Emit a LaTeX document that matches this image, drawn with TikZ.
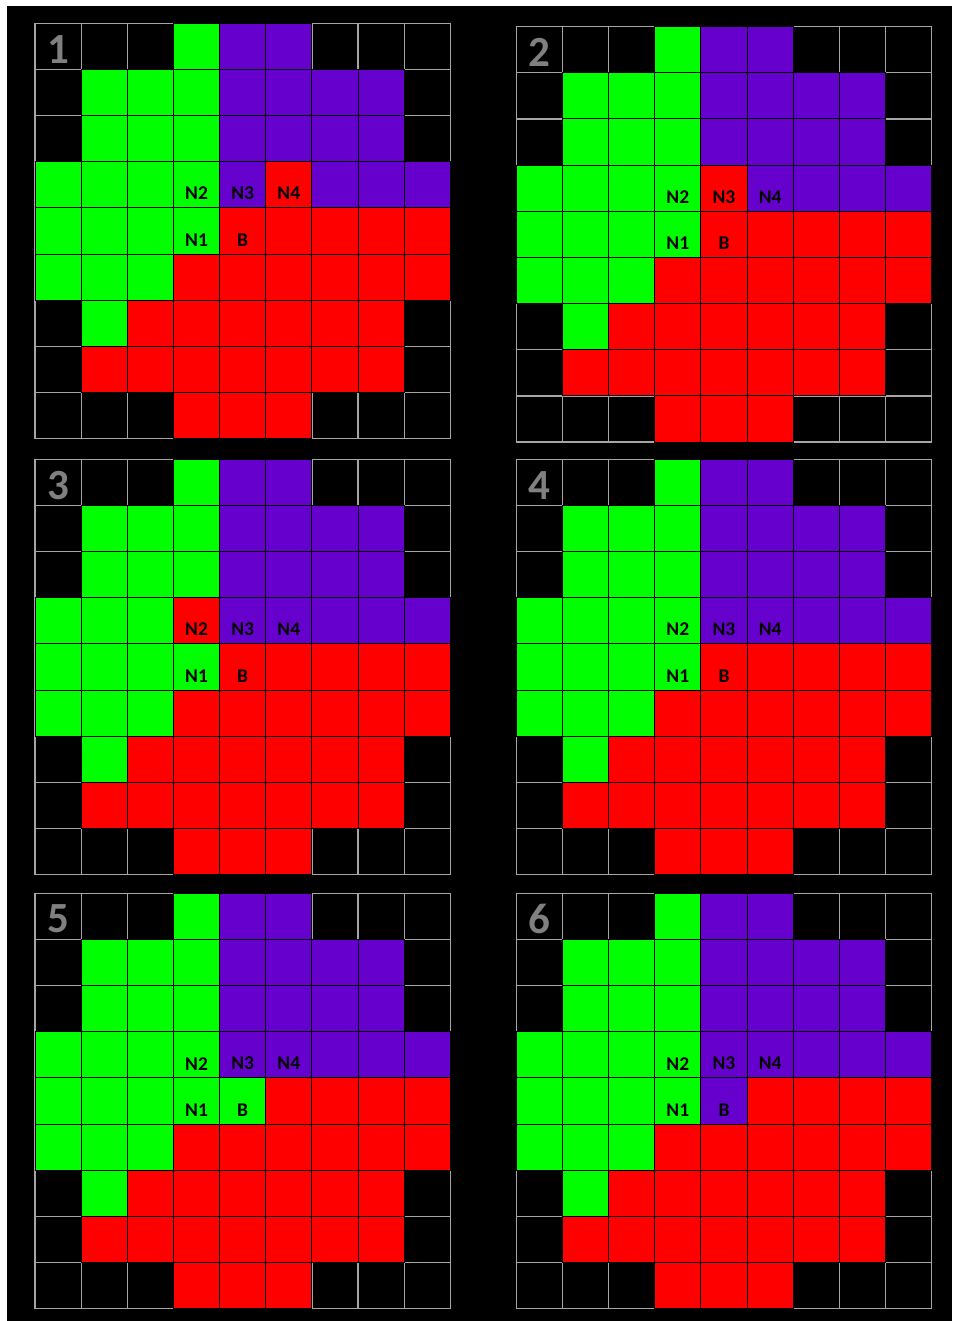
\documentclass[tikz,border=0pt]{standalone}
\usepackage{fontspec}
\setmainfont{Carlito}

\definecolor{cellgreen}{RGB}{0,255,0}
\definecolor{cellred}{RGB}{255,0,0}
\definecolor{cellpurple}{RGB}{102,0,204}
\definecolor{gridgrey}{RGB}{165,165,165}
\definecolor{numgrey}{RGB}{128,128,128}

% fixed cells, column/row from the top left corner
\newcommand{\greencells}{3/0,1/1,2/1,3/1,1/2,2/2,3/2,0/3,1/3,2/3,0/4,1/4,2/4,3/4,0/5,1/5,2/5,1/6}
\newcommand{\purplecells}{4/0,5/0,4/1,5/1,6/1,7/1,4/2,5/2,6/2,7/2,6/3,7/3,8/3}
\newcommand{\redcells}{5/4,6/4,7/4,8/4,3/5,4/5,5/5,6/5,7/5,8/5,2/6,3/6,4/6,5/6,6/6,7/6,1/7,2/7,3/7,4/7,5/7,6/7,7/7,3/8,4/8,5/8}

% #1,#2 top left corner (px), #3 number, #4 N2, #5 N3, #6 N4, #7 B
\newcommand{\board}[7]{%
  \begin{scope}[shift={(#1pt,-#2pt)}, x=46.15pt, y=-46.15pt]
    % empty grid
    \foreach \r in {0,...,8}
      \foreach \c in {0,...,8}
        \draw[emptycell] (\c,\r) rectangle ++(1,1);
    % coloured cells
    \foreach \c/\r in \greencells \draw[cell, fill=cellgreen] (\c,\r) rectangle ++(1,1);
    \foreach \c/\r in \purplecells \draw[cell, fill=cellpurple] (\c,\r) rectangle ++(1,1);
    \foreach \c/\r in \redcells \draw[cell, fill=cellred] (\c,\r) rectangle ++(1,1);
    \draw[cell, fill=#4] (3,3) rectangle ++(1,1);
    \draw[cell, fill=#5] (4,3) rectangle ++(1,1);
    \draw[cell, fill=#6] (5,3) rectangle ++(1,1);
    \draw[cell, fill=#7] (4,4) rectangle ++(1,1);
    % labels
    \node[boardnum] (num#3) at (0.5,0.56) {#3};
    \node[tag] (n2-#3) at (3.5,3.69) {N2};
    \node[tag] (n3-#3) at (4.5,3.69) {N3};
    \node[tag] (n4-#3) at (5.5,3.69) {N4};
    \node[tag] (n1-#3) at (3.5,4.69) {N1};
    \node[tag] (b-#3) at (4.5,4.69) {B};
  \end{scope}}

\begin{document}
\begin{tikzpicture}[
  emptycell/.style={draw=gridgrey, line width=1.2pt, fill=black},
  cell/.style={draw=black, line width=1pt},
  tag/.style={inner sep=0pt, font=\fontsize{19.5}{19.5}\selectfont\bfseries},
  boardnum/.style={inner sep=0pt, text=numgrey, font=\fontsize{43}{43}\selectfont\bfseries},
]
% page and background
\useasboundingbox (0,0) rectangle (952pt,-1321pt);
\fill[white] (0,0) rectangle (952pt,-1321pt);
\fill[black] (7pt,-6pt) rectangle (952pt,-1321pt);

% boards
\board{35}{23.3}{1}{cellgreen}{cellpurple}{cellred}{cellred}
\board{516.3}{26.7}{2}{cellgreen}{cellred}{cellpurple}{cellred}
\board{35}{459.3}{3}{cellred}{cellpurple}{cellpurple}{cellred}
\board{516.3}{459.3}{4}{cellgreen}{cellpurple}{cellpurple}{cellred}
\board{35}{893.3}{5}{cellgreen}{cellpurple}{cellpurple}{cellgreen}
\board{516.3}{893.3}{6}{cellgreen}{cellpurple}{cellpurple}{cellpurple}
\end{tikzpicture}
\end{document}
